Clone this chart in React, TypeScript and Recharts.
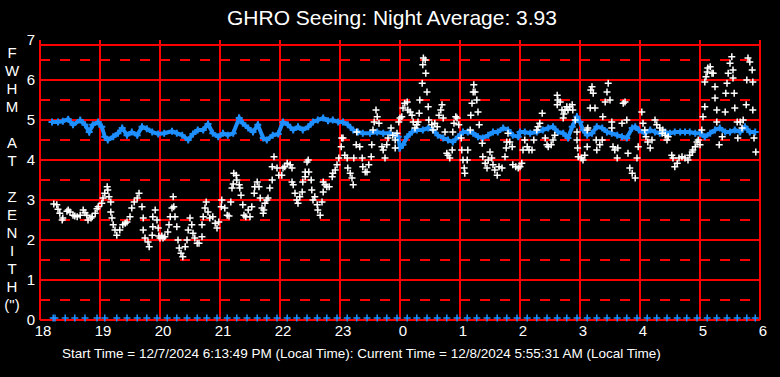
import { CartesianGrid, ComposedChart, Scatter, XAxis, YAxis } from 'recharts'

const hourTicks = [18, 19, 20, 21, 22, 23, 24, 25, 26, 27, 28, 29, 30]
const fwhmTicks = [0, 1, 2, 3, 4, 5, 6, 7]
const solidLevels = [0, 1, 2, 3, 4, 5, 6, 6.875]
const dashedLevels = [0.5, 1.5, 2.5, 3.5, 4.5, 5.5, 6.5]
const axisLetters = ['F', 'W', 'H', 'M', '', 'A', 'T', '', 'Z', 'E', 'N', 'I', 'T', 'H', '(")']

// seeing samples [hour, FWHM arcsec], hours after midnight continue past 24
const seeing: [number, number][] = [
  // 18h
  [18.23, 2.9], [18.28, 2.88], [18.3, 2.77], [18.33, 2.67], [18.37, 2.5], [18.38, 2.55],
  [18.45, 2.72], [18.47, 2.75], [18.5, 2.7], [18.55, 2.62], [18.58, 2.6], [18.62, 2.58],
  [18.67, 2.62], [18.72, 2.75], [18.75, 2.68], [18.78, 2.62], [18.8, 2.5], [18.85, 2.55],
  [18.87, 2.58], [18.92, 2.67], [18.95, 2.78], [18.97, 2.83],
  // 19h
  [19.03, 2.92], [19.05, 3.05], [19.08, 3.17], [19.12, 3.33], [19.13, 3.25], [19.15, 3.08],
  [19.18, 2.95], [19.18, 2.7], [19.2, 2.55], [19.22, 2.38], [19.25, 2.25], [19.28, 2.12],
  [19.33, 2.25], [19.38, 2.38], [19.42, 2.42], [19.45, 2.45], [19.5, 2.58], [19.53, 2.8],
  [19.57, 2.95], [19.62, 3.05], [19.65, 3.17], [19.7, 2.83], [19.72, 2.55], [19.72, 2.25],
  [19.75, 2.05], [19.8, 1.95], [19.82, 1.83], [19.87, 2.12], [19.88, 2.58], [19.92, 2.75],
  [19.88, 2.33], [19.95, 2.5], [19.97, 2.3],
  // 20h
  [19.98, 2.1], [20.0, 2.05], [20.03, 2.1], [20.05, 2.05], [20.08, 2.08], [20.13, 2.2],
  [20.15, 2.38], [20.17, 2.58], [20.2, 2.8], [20.22, 3.08], [20.23, 2.83], [20.25, 2.58],
  [20.28, 2.33], [20.3, 2.0], [20.32, 1.8], [20.35, 1.67], [20.38, 1.58], [20.42, 1.83],
  [20.45, 2.0], [20.47, 2.25], [20.5, 2.55], [20.53, 2.38], [20.55, 2.17], [20.58, 2.05],
  [20.62, 1.92], [20.65, 1.92], [20.7, 2.08], [20.7, 2.38], [20.72, 2.58], [20.75, 2.8],
  [20.77, 2.95], [20.8, 2.7], [20.83, 2.55], [20.88, 2.58], [20.92, 2.42], [20.95, 2.3],
  [20.98, 2.45],
  // 21h
  [21.02, 2.83], [21.03, 3.0], [21.08, 2.8], [21.12, 2.62], [21.15, 2.6], [21.18, 2.95],
  [21.2, 3.3], [21.22, 3.4], [21.23, 3.67], [21.27, 3.62], [21.28, 3.5], [21.32, 3.38],
  [21.33, 3.3], [21.35, 3.12], [21.38, 2.88], [21.4, 2.62], [21.43, 2.58], [21.47, 2.75],
  [21.5, 2.58], [21.53, 2.83], [21.57, 3.17], [21.58, 3.33], [21.62, 3.45], [21.65, 3.33],
  [21.67, 3.05], [21.7, 2.8], [21.72, 2.67], [21.73, 2.75], [21.75, 2.92], [21.78, 3.0],
  [21.8, 3.05], [21.83, 3.3], [21.87, 3.5], [21.87, 3.83], [21.9, 4.08], [21.95, 3.8],
  [21.98, 3.62],
  // 22h
  [22.03, 3.62], [22.05, 3.8], [22.08, 3.83], [22.12, 3.92], [22.17, 3.88], [22.2, 3.8],
  [22.2, 3.45], [22.22, 3.38], [22.25, 3.17], [22.28, 3.0], [22.3, 2.92], [22.33, 3.08],
  [22.37, 3.2], [22.38, 3.45], [22.42, 3.58], [22.42, 3.7], [22.45, 3.95], [22.47, 4.0],
  [22.48, 3.7], [22.52, 3.5], [22.53, 3.25], [22.55, 3.0], [22.58, 3.08], [22.62, 2.88],
  [22.63, 2.75], [22.67, 2.62], [22.7, 2.95], [22.72, 3.2], [22.72, 3.45], [22.75, 3.38],
  [22.78, 3.33], [22.82, 3.33], [22.87, 3.58], [22.88, 3.67], [22.92, 3.75], [22.95, 3.88],
  [22.98, 4.05],
  // 23h
  [23.02, 4.33], [23.03, 4.55], [23.05, 4.55], [23.08, 4.12], [23.12, 4.05], [23.13, 3.8],
  [23.17, 3.67], [23.2, 3.55], [23.22, 3.38], [23.23, 4.05], [23.27, 4.38], [23.28, 4.7],
  [23.33, 4.33], [23.37, 4.05], [23.38, 3.83], [23.42, 3.7], [23.45, 3.7], [23.48, 3.88],
  [23.52, 4.08], [23.53, 4.38], [23.55, 4.75], [23.57, 4.95], [23.6, 5.25], [23.62, 5.08],
  [23.65, 4.92], [23.7, 4.33], [23.72, 4.25], [23.75, 4.05], [23.78, 4.38], [23.8, 4.55],
  [23.85, 4.8], [23.88, 4.62], [23.92, 4.5], [23.92, 4.3], [23.95, 4.67], [23.98, 4.95],
  // 0h
  [24.0, 5.05], [24.03, 5.08], [24.05, 5.3], [24.08, 5.42], [24.12, 5.45], [24.13, 5.25],
  [24.17, 5.2], [24.2, 5.12], [24.22, 4.95], [24.25, 4.8], [24.28, 4.88], [24.3, 4.95],
  [24.32, 5.17], [24.33, 5.5], [24.37, 5.92], [24.38, 6.38], [24.39, 6.55], [24.42, 6.5],
  [24.43, 6.17], [24.45, 5.7], [24.47, 5.33], [24.48, 5.0], [24.53, 4.88], [24.55, 4.75],
  [24.58, 4.92], [24.62, 4.83], [24.65, 5.12], [24.68, 5.25], [24.7, 5.38], [24.72, 5.05],
  [24.75, 4.7], [24.78, 4.17], [24.8, 4.12], [24.83, 4.05], [24.87, 4.25], [24.88, 4.7],
  [24.9, 4.92], [24.93, 5.08], [24.95, 5.05], [24.98, 4.88],
  // 1h
  [25.02, 4.55], [25.03, 4.25], [25.05, 4.0], [25.07, 3.8], [25.08, 3.67], [25.12, 4.0],
  [25.13, 4.25], [25.17, 4.75], [25.18, 5.12], [25.2, 5.42], [25.22, 5.7], [25.23, 5.88],
  [25.25, 5.7], [25.28, 5.5], [25.3, 5.2], [25.32, 4.88], [25.37, 4.42], [25.38, 4.08],
  [25.42, 3.92], [25.45, 3.8], [25.47, 4.0], [25.5, 4.2], [25.53, 4.05], [25.55, 3.88],
  [25.58, 3.75], [25.62, 3.62], [25.65, 3.83], [25.7, 3.8], [25.75, 4.08], [25.77, 4.3],
  [25.78, 4.45], [25.8, 4.67], [25.83, 4.45], [25.87, 4.33], [25.88, 3.88], [25.93, 3.83],
  [25.97, 3.8],
  // 2h
  [26.0, 3.83], [26.03, 3.92], [26.05, 4.25], [26.08, 4.5], [26.12, 4.33], [26.15, 4.25],
  [26.2, 4.25], [26.23, 4.5], [26.28, 4.75], [26.3, 4.83], [26.33, 4.92], [26.37, 5.17],
  [26.42, 4.55], [26.45, 4.38], [26.47, 4.33], [26.52, 4.38], [26.55, 4.5], [26.58, 4.62],
  [26.62, 5.38], [26.62, 5.62], [26.63, 5.5], [26.67, 5.45], [26.7, 5.25], [26.72, 5.05],
  [26.73, 5.15], [26.75, 5.25], [26.78, 5.33], [26.8, 5.25], [26.83, 5.33], [26.87, 5.38],
  [26.88, 5.25], [26.92, 5.0], [26.95, 4.7], [26.95, 4.5], [26.96, 4.3], [26.97, 4.08],
  // 3h
  [27.02, 4.05], [27.05, 4.0], [27.08, 4.12], [27.12, 4.33], [27.12, 4.75], [27.13, 4.8],
  [27.17, 5.3], [27.18, 5.75], [27.2, 5.83], [27.22, 5.67], [27.25, 5.3], [27.27, 4.5],
  [27.28, 4.25], [27.33, 4.38], [27.37, 4.5], [27.38, 5.08], [27.42, 5.45], [27.45, 5.7],
  [27.47, 5.92], [27.5, 5.5], [27.53, 4.95], [27.53, 4.8], [27.55, 4.33], [27.58, 4.25],
  [27.62, 4.05], [27.63, 4.3], [27.7, 4.92], [27.72, 5.42], [27.75, 5.45], [27.78, 5.0],
  [27.8, 4.17], [27.83, 3.8], [27.87, 3.67], [27.92, 3.55], [27.95, 4.05], [27.97, 4.33],
  // 4h
  [28.03, 5.2], [28.05, 4.92], [28.08, 4.75], [28.1, 4.58], [28.13, 4.45], [28.17, 4.3],
  [28.2, 4.5], [28.25, 5.0], [28.28, 4.88], [28.33, 4.8], [28.37, 4.67], [28.38, 4.75],
  [28.42, 4.62], [28.45, 4.5], [28.47, 4.58], [28.53, 4.12], [28.55, 4.05], [28.58, 3.83],
  [28.62, 3.92], [28.65, 4.05], [28.7, 4.08], [28.75, 4.05], [28.8, 4.0], [28.83, 4.12],
  [28.87, 4.2], [28.88, 4.25], [28.92, 4.33], [28.95, 4.45], [28.97, 4.5],
  // 5h
  [29.0, 4.38], [29.03, 4.75], [29.05, 5.08], [29.08, 5.33], [29.08, 5.95], [29.1, 6.08],
  [29.12, 6.2], [29.13, 6.3], [29.17, 6.33], [29.2, 6.17], [29.22, 6.17], [29.25, 5.83],
  [29.25, 5.55], [29.28, 5.25], [29.28, 4.95], [29.32, 4.38], [29.37, 4.58], [29.42, 5.2],
  [29.43, 5.67], [29.45, 5.92], [29.47, 6.17], [29.5, 6.42], [29.53, 6.58], [29.55, 6.25],
  [29.55, 6.05], [29.57, 5.67], [29.58, 5.3], [29.62, 4.95], [29.63, 4.55], [29.67, 4.95],
  [29.7, 4.8], [29.72, 5.0], [29.77, 5.38], [29.78, 6.0], [29.8, 6.55], [29.83, 6.45],
  [29.87, 6.25], [29.88, 5.95], [29.88, 5.25], [29.9, 4.55], [29.93, 4.2],
]

// blue running trace [hour, FWHM]
const trend: [number, number][] = [
  [18.2, 4.95], [18.3, 4.95], [18.38, 4.97], [18.47, 5.02], [18.55, 4.88], [18.67, 5.0],
  [18.75, 4.88], [18.82, 4.7], [18.88, 4.88], [18.97, 4.95], [19.03, 4.83], [19.08, 4.58],
  [19.13, 4.5], [19.22, 4.58], [19.3, 4.67], [19.37, 4.8], [19.45, 4.62], [19.53, 4.7],
  [19.62, 4.62], [19.7, 4.83], [19.78, 4.78], [19.87, 4.7], [19.97, 4.65], [20.07, 4.67],
  [20.2, 4.72], [20.28, 4.67], [20.37, 4.62], [20.47, 4.5], [20.55, 4.65], [20.63, 4.75],
  [20.72, 4.75], [20.8, 4.9], [20.88, 4.67], [20.97, 4.58], [21.05, 4.67], [21.13, 4.62],
  [21.22, 4.67], [21.32, 5.05], [21.38, 4.92], [21.47, 4.8], [21.55, 4.7], [21.63, 4.88],
  [21.72, 4.55], [21.78, 4.5], [21.88, 4.62], [21.97, 4.65], [22.05, 4.95], [22.13, 4.88],
  [22.22, 4.75], [22.3, 4.83], [22.38, 4.75], [22.47, 4.83], [22.55, 4.95], [22.63, 5.0],
  [22.72, 5.05], [22.8, 4.98], [22.88, 5.0], [22.97, 4.95], [23.05, 4.95], [23.13, 4.88],
  [23.22, 4.75], [23.3, 4.7], [23.38, 4.67], [23.5, 4.67], [23.62, 4.7], [23.72, 4.67],
  [23.83, 4.67], [23.92, 4.62], [23.97, 4.58], [24.0, 4.3], [24.05, 4.38], [24.12, 4.58],
  [24.2, 4.7], [24.28, 4.75], [24.38, 4.75], [24.47, 4.8], [24.55, 4.75], [24.63, 4.62],
  [24.72, 4.55], [24.8, 4.5], [24.88, 4.45], [24.97, 4.58], [25.05, 4.7], [25.13, 4.7],
  [25.22, 4.67], [25.3, 4.58], [25.38, 4.55], [25.47, 4.62], [25.55, 4.7], [25.63, 4.7],
  [25.72, 4.8], [25.8, 4.75], [25.88, 4.62], [25.97, 4.58], [26.0, 4.7], [26.08, 4.7],
  [26.17, 4.67], [26.28, 4.7], [26.38, 4.75], [26.47, 4.8], [26.55, 4.83], [26.63, 4.7],
  [26.72, 4.67], [26.8, 4.55], [26.87, 4.83], [26.95, 5.08], [27.0, 4.95], [27.05, 4.75],
  [27.12, 4.62], [27.2, 4.67], [27.28, 4.83], [27.37, 4.8], [27.45, 4.7], [27.53, 4.67],
  [27.62, 4.62], [27.7, 4.58], [27.78, 4.55], [27.87, 4.8], [27.92, 4.83], [27.98, 4.75],
  [28.08, 4.67], [28.17, 4.75], [28.25, 4.7], [28.33, 4.67], [28.42, 4.7], [28.5, 4.67],
  [28.58, 4.7], [28.67, 4.7], [28.75, 4.7], [28.83, 4.7], [28.92, 4.67], [29.0, 4.67],
  [29.08, 4.58], [29.17, 4.67], [29.25, 4.75], [29.33, 4.8], [29.42, 4.7], [29.5, 4.7],
  [29.58, 4.75], [29.67, 4.7], [29.75, 4.83], [29.83, 4.7], [29.92, 4.7],
]

// samples with no measurement, plotted at zero
const zeroTimes = [
  18.22, 18.25, 18.42, 18.58, 18.75, 18.95, 19.08, 19.28, 19.45, 19.62, 19.78, 19.95,
  20.12, 20.28, 20.45, 20.62, 20.78, 20.95, 21.12, 21.28, 21.45, 21.62, 21.78, 21.95,
  22.12, 22.28, 22.45, 22.62, 22.78, 22.95, 23.12, 23.28, 23.45, 23.62, 23.78, 23.95,
  24.12, 24.28, 24.45, 24.62, 24.78, 24.95, 25.12, 25.28, 25.45, 25.62, 25.78, 25.95,
  26.12, 26.28, 26.45, 26.62, 26.78, 26.95, 27.12, 27.28, 27.45, 27.62, 27.78, 27.95,
  28.12, 28.28, 28.45, 28.62, 28.78, 28.95, 29.12, 29.28, 29.45, 29.62, 29.78, 29.92,
]

const RED = '#ff0000'
const BLUE = '#1e8fff'
const FONT = '"Liberation Sans", Arial, sans-serif'

const cross = (color: string, r: number, w: number, lift = 0) => (p: any) => {
  const { cx } = p
  const cy = p.cy == null ? null : p.cy - lift
  if (cx == null || cy == null) return <g />
  return (
    <path
      d={`M${cx - r},${cy}H${cx + r}M${cx},${cy - r}V${cy + r}`}
      stroke={color}
      strokeWidth={w}
      fill="none"
    />
  )
}

export default function App() {
  const seeingData = seeing.map(([t, v]) => ({ t, v }))
  const trendData = trend.map(([t, v]) => ({ t, v }))
  const zeroData = zeroTimes.map(t => ({ t, v: 0 }))

  return (
    <div style={{ position: 'absolute', left: 0, top: 0, width: 780, height: 377, background: '#000', fontFamily: FONT, color: '#fff' }}>
      <div style={{ position: 'absolute', left: 0, width: 784, top: 6, textAlign: 'center', fontSize: 21, lineHeight: '24px' }}>
        GHRO Seeing: Night Average: 3.93
      </div>
      {axisLetters.map((c, i) => (
        <div key={i} style={{ position: 'absolute', left: 0, width: 24, top: 45 + i * 18, textAlign: 'center', fontSize: 15, lineHeight: '16px' }}>
          {c}
        </div>
      ))}
      <div style={{ position: 'absolute', left: 62, top: 346, fontSize: 13.5, lineHeight: '16px', whiteSpace: 'pre' }}>
        Start Time = 12/7/2024 6:13:49 PM (Local Time): Current Time = 12/8/2024 5:55:31 AM (Local Time)
      </div>
      <ComposedChart width={780} height={377} margin={{ top: 40, right: 20, bottom: 27, left: 0 }}>
        <CartesianGrid
          horizontalValues={solidLevels}
          verticalValues={hourTicks}
          stroke={RED}
          strokeWidth={2}
          strokeDasharray=""
        />
        <CartesianGrid
          horizontalValues={dashedLevels}
          vertical={false}
          stroke={RED}
          strokeWidth={2}
          strokeDasharray="10 10"
        />
        <XAxis
          dataKey="t"
          type="number"
          domain={[18, 30]}
          ticks={hourTicks}
          height={30}
          tickFormatter={h => `${h % 24}`}
          tick={{ fill: '#fff', fontSize: 15, fontFamily: FONT, dx: 3 }}
          tickLine={false}
          axisLine={false}
          tickSize={0}
          tickMargin={5}
        />
        <YAxis
          dataKey="v"
          type="number"
          domain={[0, 7]}
          ticks={fwhmTicks}
          width={40}
          tick={{ fill: '#fff', fontSize: 15, fontFamily: FONT }}
          tickLine={false}
          axisLine={false}
          tickSize={0}
          tickMargin={5}
        />
        <Scatter
          data={trendData}
          line={{ stroke: BLUE, strokeWidth: 4 }}
          lineJointType="linear"
          shape={cross(BLUE, 3.5, 2)}
          isAnimationActive={false}
        />
        <Scatter data={seeingData} shape={cross('#fff', 3.5, 1.5)} isAnimationActive={false} />
        <Scatter data={zeroData} shape={cross(BLUE, 3.5, 1.5, 2)} isAnimationActive={false} />
      </ComposedChart>
    </div>
  )
}
